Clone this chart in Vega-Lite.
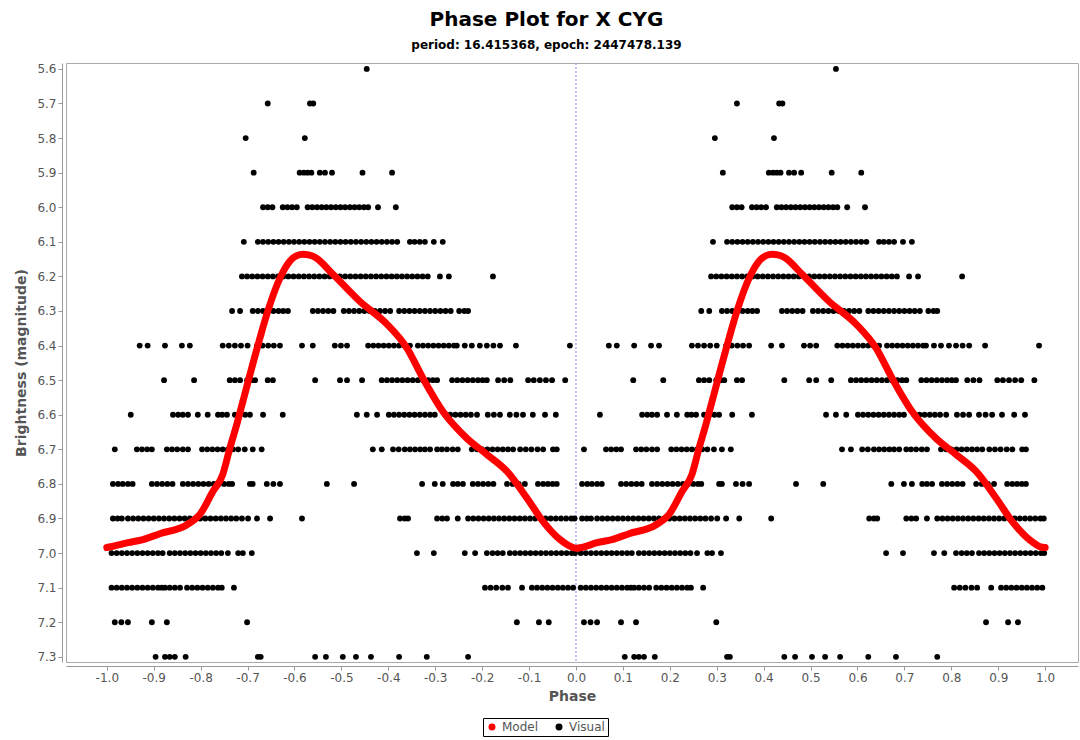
{
  "$schema": "https://vega.github.io/schema/vega-lite/v6.json",
  "autosize": {"type": "fit", "contains": "padding"},
  "width": 1080,
  "height": 740,
  "padding": {"left": 14, "top": 9, "right": 2, "bottom": 37},
  "background": "white",
  "title": {
    "text": "Phase Plot for X CYG",
    "subtitle": "period: 16.415368, epoch: 2447478.139",
    "font": "DejaVu Sans",
    "fontSize": 20,
    "fontWeight": "bold",
    "color": "#000000",
    "subtitleFont": "DejaVu Sans",
    "subtitleFontSize": 12,
    "subtitleFontWeight": "bold",
    "subtitleColor": "#000000",
    "subtitlePadding": 10,
    "anchor": "middle",
    "frame": "bounds",
    "offset": 12
  },
  "config": {
    "view": {"stroke": "#aaaaaa", "strokeWidth": 1},
    "axis": {
      "labelFont": "DejaVu Sans",
      "labelFontSize": 12,
      "labelColor": "#555555",
      "labelOverlap": false,
      "titleFont": "DejaVu Sans",
      "titleFontSize": 14,
      "titleFontWeight": "bold",
      "titleColor": "#555555",
      "domainColor": "#999999",
      "tickColor": "#999999",
      "tickSize": 4,
      "grid": false
    },
    "legend": {
      "labelFont": "DejaVu Sans",
      "labelFontSize": 12,
      "labelColor": "#555555"
    }
  },
  "datasets": {
    "vis": [
      {"p":-0.446,"m":5.6},{"p":0.554,"m":5.6},
      {"p":-0.657,"m":5.7},{"p":-0.567,"m":5.7},{"p":-0.56,"m":5.7},
      {"p":0.343,"m":5.7},{"p":0.433,"m":5.7},{"p":0.44,"m":5.7},
      {"p":-0.704,"m":5.8},{"p":-0.578,"m":5.8},{"p":0.296,"m":5.8},{"p":0.422,"m":5.8},
      {"p":-0.687,"m":5.9},{"p":-0.589,"m":5.9},{"p":-0.58,"m":5.9},{"p":-0.572,"m":5.9},{"p":-0.564,"m":5.9},{"p":-0.546,"m":5.9},{"p":-0.535,"m":5.9},{"p":-0.52,"m":5.9},{"p":-0.455,"m":5.9},{"p":-0.392,"m":5.9},
      {"p":0.313,"m":5.9},{"p":0.411,"m":5.9},{"p":0.42,"m":5.9},{"p":0.428,"m":5.9},{"p":0.436,"m":5.9},{"p":0.454,"m":5.9},{"p":0.465,"m":5.9},{"p":0.48,"m":5.9},{"p":0.545,"m":5.9},{"p":0.608,"m":5.9},
      {"p":-0.667,"m":6.0},{"p":-0.657,"m":6.0},{"p":-0.647,"m":6.0},{"p":-0.625,"m":6.0},{"p":-0.615,"m":6.0},{"p":-0.605,"m":6.0},{"p":-0.595,"m":6.0},{"p":-0.572,"m":6.0},{"p":-0.562,"m":6.0},{"p":-0.552,"m":6.0},{"p":-0.542,"m":6.0},{"p":-0.532,"m":6.0},{"p":-0.522,"m":6.0},{"p":-0.512,"m":6.0},{"p":-0.502,"m":6.0},{"p":-0.492,"m":6.0},{"p":-0.482,"m":6.0},{"p":-0.472,"m":6.0},{"p":-0.462,"m":6.0},{"p":-0.452,"m":6.0},{"p":-0.443,"m":6.0},{"p":-0.422,"m":6.0},{"p":-0.384,"m":6.0},
      {"p":0.333,"m":6.0},{"p":0.343,"m":6.0},{"p":0.353,"m":6.0},{"p":0.375,"m":6.0},{"p":0.385,"m":6.0},{"p":0.395,"m":6.0},{"p":0.405,"m":6.0},{"p":0.428,"m":6.0},{"p":0.438,"m":6.0},{"p":0.448,"m":6.0},{"p":0.458,"m":6.0},{"p":0.468,"m":6.0},{"p":0.478,"m":6.0},{"p":0.488,"m":6.0},{"p":0.498,"m":6.0},{"p":0.508,"m":6.0},{"p":0.518,"m":6.0},{"p":0.528,"m":6.0},{"p":0.538,"m":6.0},{"p":0.548,"m":6.0},{"p":0.557,"m":6.0},{"p":0.578,"m":6.0},{"p":0.616,"m":6.0},
      {"p":-0.708,"m":6.1},{"p":-0.678,"m":6.1},{"p":-0.667,"m":6.1},{"p":-0.656,"m":6.1},{"p":-0.645,"m":6.1},{"p":-0.634,"m":6.1},{"p":-0.623,"m":6.1},{"p":-0.612,"m":6.1},{"p":-0.601,"m":6.1},{"p":-0.59,"m":6.1},{"p":-0.579,"m":6.1},{"p":-0.568,"m":6.1},{"p":-0.557,"m":6.1},{"p":-0.546,"m":6.1},{"p":-0.535,"m":6.1},{"p":-0.524,"m":6.1},{"p":-0.513,"m":6.1},{"p":-0.502,"m":6.1},{"p":-0.491,"m":6.1},{"p":-0.48,"m":6.1},{"p":-0.469,"m":6.1},{"p":-0.458,"m":6.1},{"p":-0.447,"m":6.1},{"p":-0.436,"m":6.1},{"p":-0.425,"m":6.1},{"p":-0.414,"m":6.1},{"p":-0.403,"m":6.1},{"p":-0.392,"m":6.1},{"p":-0.381,"m":6.1},{"p":-0.354,"m":6.1},{"p":-0.344,"m":6.1},{"p":-0.333,"m":6.1},{"p":-0.322,"m":6.1},{"p":-0.303,"m":6.1},{"p":-0.284,"m":6.1},
      {"p":0.292,"m":6.1},{"p":0.322,"m":6.1},{"p":0.333,"m":6.1},{"p":0.344,"m":6.1},{"p":0.355,"m":6.1},{"p":0.366,"m":6.1},{"p":0.377,"m":6.1},{"p":0.388,"m":6.1},{"p":0.399,"m":6.1},{"p":0.41,"m":6.1},{"p":0.421,"m":6.1},{"p":0.432,"m":6.1},{"p":0.443,"m":6.1},{"p":0.454,"m":6.1},{"p":0.465,"m":6.1},{"p":0.476,"m":6.1},{"p":0.487,"m":6.1},{"p":0.498,"m":6.1},{"p":0.509,"m":6.1},{"p":0.52,"m":6.1},{"p":0.531,"m":6.1},{"p":0.542,"m":6.1},{"p":0.553,"m":6.1},{"p":0.564,"m":6.1},{"p":0.575,"m":6.1},{"p":0.586,"m":6.1},{"p":0.597,"m":6.1},{"p":0.608,"m":6.1},{"p":0.619,"m":6.1},{"p":0.646,"m":6.1},{"p":0.656,"m":6.1},{"p":0.667,"m":6.1},{"p":0.678,"m":6.1},{"p":0.697,"m":6.1},{"p":0.716,"m":6.1},
      {"p":-0.712,"m":6.2},{"p":-0.701,"m":6.2},{"p":-0.69,"m":6.2},{"p":-0.679,"m":6.2},{"p":-0.668,"m":6.2},{"p":-0.657,"m":6.2},{"p":-0.646,"m":6.2},{"p":-0.635,"m":6.2},{"p":-0.624,"m":6.2},{"p":-0.613,"m":6.2},{"p":-0.602,"m":6.2},{"p":-0.591,"m":6.2},{"p":-0.58,"m":6.2},{"p":-0.569,"m":6.2},{"p":-0.558,"m":6.2},{"p":-0.547,"m":6.2},{"p":-0.536,"m":6.2},{"p":-0.525,"m":6.2},{"p":-0.514,"m":6.2},{"p":-0.503,"m":6.2},{"p":-0.492,"m":6.2},{"p":-0.481,"m":6.2},{"p":-0.47,"m":6.2},{"p":-0.459,"m":6.2},{"p":-0.448,"m":6.2},{"p":-0.437,"m":6.2},{"p":-0.426,"m":6.2},{"p":-0.415,"m":6.2},{"p":-0.404,"m":6.2},{"p":-0.393,"m":6.2},{"p":-0.382,"m":6.2},{"p":-0.371,"m":6.2},{"p":-0.36,"m":6.2},{"p":-0.349,"m":6.2},{"p":-0.338,"m":6.2},{"p":-0.327,"m":6.2},{"p":-0.316,"m":6.2},{"p":-0.29,"m":6.2},{"p":-0.271,"m":6.2},{"p":-0.177,"m":6.2},
      {"p":0.288,"m":6.2},{"p":0.299,"m":6.2},{"p":0.31,"m":6.2},{"p":0.321,"m":6.2},{"p":0.332,"m":6.2},{"p":0.343,"m":6.2},{"p":0.354,"m":6.2},{"p":0.365,"m":6.2},{"p":0.376,"m":6.2},{"p":0.387,"m":6.2},{"p":0.398,"m":6.2},{"p":0.409,"m":6.2},{"p":0.42,"m":6.2},{"p":0.431,"m":6.2},{"p":0.442,"m":6.2},{"p":0.453,"m":6.2},{"p":0.464,"m":6.2},{"p":0.475,"m":6.2},{"p":0.486,"m":6.2},{"p":0.497,"m":6.2},{"p":0.508,"m":6.2},{"p":0.519,"m":6.2},{"p":0.53,"m":6.2},{"p":0.541,"m":6.2},{"p":0.552,"m":6.2},{"p":0.563,"m":6.2},{"p":0.574,"m":6.2},{"p":0.585,"m":6.2},{"p":0.596,"m":6.2},{"p":0.607,"m":6.2},{"p":0.618,"m":6.2},{"p":0.629,"m":6.2},{"p":0.64,"m":6.2},{"p":0.651,"m":6.2},{"p":0.662,"m":6.2},{"p":0.673,"m":6.2},{"p":0.684,"m":6.2},{"p":0.71,"m":6.2},{"p":0.729,"m":6.2},{"p":0.823,"m":6.2},
      {"p":-0.733,"m":6.3},{"p":-0.716,"m":6.3},{"p":-0.689,"m":6.3},{"p":-0.678,"m":6.3},{"p":-0.667,"m":6.3},{"p":-0.656,"m":6.3},{"p":-0.645,"m":6.3},{"p":-0.634,"m":6.3},{"p":-0.624,"m":6.3},{"p":-0.614,"m":6.3},{"p":-0.561,"m":6.3},{"p":-0.55,"m":6.3},{"p":-0.539,"m":6.3},{"p":-0.528,"m":6.3},{"p":-0.517,"m":6.3},{"p":-0.495,"m":6.3},{"p":-0.484,"m":6.3},{"p":-0.473,"m":6.3},{"p":-0.462,"m":6.3},{"p":-0.451,"m":6.3},{"p":-0.44,"m":6.3},{"p":-0.429,"m":6.3},{"p":-0.418,"m":6.3},{"p":-0.407,"m":6.3},{"p":-0.396,"m":6.3},{"p":-0.377,"m":6.3},{"p":-0.366,"m":6.3},{"p":-0.355,"m":6.3},{"p":-0.344,"m":6.3},{"p":-0.333,"m":6.3},{"p":-0.322,"m":6.3},{"p":-0.311,"m":6.3},{"p":-0.3,"m":6.3},{"p":-0.289,"m":6.3},{"p":-0.278,"m":6.3},{"p":-0.267,"m":6.3},{"p":-0.249,"m":6.3},{"p":-0.238,"m":6.3},{"p":-0.23,"m":6.3},
      {"p":0.267,"m":6.3},{"p":0.284,"m":6.3},{"p":0.311,"m":6.3},{"p":0.322,"m":6.3},{"p":0.333,"m":6.3},{"p":0.344,"m":6.3},{"p":0.355,"m":6.3},{"p":0.366,"m":6.3},{"p":0.376,"m":6.3},{"p":0.386,"m":6.3},{"p":0.439,"m":6.3},{"p":0.45,"m":6.3},{"p":0.461,"m":6.3},{"p":0.472,"m":6.3},{"p":0.483,"m":6.3},{"p":0.505,"m":6.3},{"p":0.516,"m":6.3},{"p":0.527,"m":6.3},{"p":0.538,"m":6.3},{"p":0.549,"m":6.3},{"p":0.56,"m":6.3},{"p":0.571,"m":6.3},{"p":0.582,"m":6.3},{"p":0.593,"m":6.3},{"p":0.604,"m":6.3},{"p":0.623,"m":6.3},{"p":0.634,"m":6.3},{"p":0.645,"m":6.3},{"p":0.656,"m":6.3},{"p":0.667,"m":6.3},{"p":0.678,"m":6.3},{"p":0.689,"m":6.3},{"p":0.7,"m":6.3},{"p":0.711,"m":6.3},{"p":0.722,"m":6.3},{"p":0.733,"m":6.3},{"p":0.751,"m":6.3},{"p":0.762,"m":6.3},{"p":0.77,"m":6.3},
      {"p":-0.93,"m":6.4},{"p":-0.913,"m":6.4},{"p":-0.876,"m":6.4},{"p":-0.84,"m":6.4},{"p":-0.823,"m":6.4},{"p":-0.753,"m":6.4},{"p":-0.74,"m":6.4},{"p":-0.727,"m":6.4},{"p":-0.714,"m":6.4},{"p":-0.7,"m":6.4},{"p":-0.68,"m":6.4},{"p":-0.668,"m":6.4},{"p":-0.656,"m":6.4},{"p":-0.644,"m":6.4},{"p":-0.631,"m":6.4},{"p":-0.584,"m":6.4},{"p":-0.561,"m":6.4},{"p":-0.514,"m":6.4},{"p":-0.501,"m":6.4},{"p":-0.488,"m":6.4},{"p":-0.443,"m":6.4},{"p":-0.432,"m":6.4},{"p":-0.421,"m":6.4},{"p":-0.41,"m":6.4},{"p":-0.399,"m":6.4},{"p":-0.388,"m":6.4},{"p":-0.377,"m":6.4},{"p":-0.366,"m":6.4},{"p":-0.354,"m":6.4},{"p":-0.337,"m":6.4},{"p":-0.326,"m":6.4},{"p":-0.315,"m":6.4},{"p":-0.304,"m":6.4},{"p":-0.293,"m":6.4},{"p":-0.282,"m":6.4},{"p":-0.271,"m":6.4},{"p":-0.26,"m":6.4},{"p":-0.254,"m":6.4},{"p":-0.237,"m":6.4},{"p":-0.222,"m":6.4},{"p":-0.205,"m":6.4},{"p":-0.19,"m":6.4},{"p":-0.176,"m":6.4},{"p":-0.162,"m":6.4},{"p":-0.128,"m":6.4},{"p":-0.013,"m":6.4},
      {"p":0.07,"m":6.4},{"p":0.087,"m":6.4},{"p":0.124,"m":6.4},{"p":0.16,"m":6.4},{"p":0.177,"m":6.4},{"p":0.247,"m":6.4},{"p":0.26,"m":6.4},{"p":0.273,"m":6.4},{"p":0.286,"m":6.4},{"p":0.3,"m":6.4},{"p":0.32,"m":6.4},{"p":0.332,"m":6.4},{"p":0.344,"m":6.4},{"p":0.356,"m":6.4},{"p":0.369,"m":6.4},{"p":0.416,"m":6.4},{"p":0.439,"m":6.4},{"p":0.486,"m":6.4},{"p":0.499,"m":6.4},{"p":0.512,"m":6.4},{"p":0.557,"m":6.4},{"p":0.568,"m":6.4},{"p":0.579,"m":6.4},{"p":0.59,"m":6.4},{"p":0.601,"m":6.4},{"p":0.612,"m":6.4},{"p":0.623,"m":6.4},{"p":0.634,"m":6.4},{"p":0.646,"m":6.4},{"p":0.663,"m":6.4},{"p":0.674,"m":6.4},{"p":0.685,"m":6.4},{"p":0.696,"m":6.4},{"p":0.707,"m":6.4},{"p":0.718,"m":6.4},{"p":0.729,"m":6.4},{"p":0.74,"m":6.4},{"p":0.746,"m":6.4},{"p":0.763,"m":6.4},{"p":0.778,"m":6.4},{"p":0.795,"m":6.4},{"p":0.81,"m":6.4},{"p":0.824,"m":6.4},{"p":0.838,"m":6.4},{"p":0.872,"m":6.4},{"p":0.987,"m":6.4},
      {"p":-0.878,"m":6.5},{"p":-0.814,"m":6.5},{"p":-0.738,"m":6.5},{"p":-0.727,"m":6.5},{"p":-0.716,"m":6.5},{"p":-0.701,"m":6.5},{"p":-0.692,"m":6.5},{"p":-0.684,"m":6.5},{"p":-0.657,"m":6.5},{"p":-0.646,"m":6.5},{"p":-0.556,"m":6.5},{"p":-0.503,"m":6.5},{"p":-0.488,"m":6.5},{"p":-0.456,"m":6.5},{"p":-0.414,"m":6.5},{"p":-0.403,"m":6.5},{"p":-0.392,"m":6.5},{"p":-0.381,"m":6.5},{"p":-0.37,"m":6.5},{"p":-0.359,"m":6.5},{"p":-0.348,"m":6.5},{"p":-0.337,"m":6.5},{"p":-0.326,"m":6.5},{"p":-0.315,"m":6.5},{"p":-0.305,"m":6.5},{"p":-0.296,"m":6.5},{"p":-0.264,"m":6.5},{"p":-0.253,"m":6.5},{"p":-0.242,"m":6.5},{"p":-0.231,"m":6.5},{"p":-0.22,"m":6.5},{"p":-0.209,"m":6.5},{"p":-0.199,"m":6.5},{"p":-0.19,"m":6.5},{"p":-0.166,"m":6.5},{"p":-0.153,"m":6.5},{"p":-0.14,"m":6.5},{"p":-0.102,"m":6.5},{"p":-0.09,"m":6.5},{"p":-0.077,"m":6.5},{"p":-0.064,"m":6.5},{"p":-0.051,"m":6.5},{"p":-0.023,"m":6.5},
      {"p":0.122,"m":6.5},{"p":0.186,"m":6.5},{"p":0.262,"m":6.5},{"p":0.273,"m":6.5},{"p":0.284,"m":6.5},{"p":0.299,"m":6.5},{"p":0.308,"m":6.5},{"p":0.316,"m":6.5},{"p":0.343,"m":6.5},{"p":0.354,"m":6.5},{"p":0.444,"m":6.5},{"p":0.497,"m":6.5},{"p":0.512,"m":6.5},{"p":0.544,"m":6.5},{"p":0.586,"m":6.5},{"p":0.597,"m":6.5},{"p":0.608,"m":6.5},{"p":0.619,"m":6.5},{"p":0.63,"m":6.5},{"p":0.641,"m":6.5},{"p":0.652,"m":6.5},{"p":0.663,"m":6.5},{"p":0.674,"m":6.5},{"p":0.685,"m":6.5},{"p":0.695,"m":6.5},{"p":0.704,"m":6.5},{"p":0.736,"m":6.5},{"p":0.747,"m":6.5},{"p":0.758,"m":6.5},{"p":0.769,"m":6.5},{"p":0.78,"m":6.5},{"p":0.791,"m":6.5},{"p":0.801,"m":6.5},{"p":0.81,"m":6.5},{"p":0.834,"m":6.5},{"p":0.847,"m":6.5},{"p":0.86,"m":6.5},{"p":0.898,"m":6.5},{"p":0.91,"m":6.5},{"p":0.923,"m":6.5},{"p":0.936,"m":6.5},{"p":0.949,"m":6.5},{"p":0.977,"m":6.5},
      {"p":-0.949,"m":6.6},{"p":-0.859,"m":6.6},{"p":-0.848,"m":6.6},{"p":-0.838,"m":6.6},{"p":-0.827,"m":6.6},{"p":-0.806,"m":6.6},{"p":-0.785,"m":6.6},{"p":-0.763,"m":6.6},{"p":-0.754,"m":6.6},{"p":-0.744,"m":6.6},{"p":-0.727,"m":6.6},{"p":-0.716,"m":6.6},{"p":-0.705,"m":6.6},{"p":-0.695,"m":6.6},{"p":-0.667,"m":6.6},{"p":-0.625,"m":6.6},{"p":-0.467,"m":6.6},{"p":-0.446,"m":6.6},{"p":-0.424,"m":6.6},{"p":-0.399,"m":6.6},{"p":-0.388,"m":6.6},{"p":-0.377,"m":6.6},{"p":-0.366,"m":6.6},{"p":-0.355,"m":6.6},{"p":-0.344,"m":6.6},{"p":-0.333,"m":6.6},{"p":-0.322,"m":6.6},{"p":-0.311,"m":6.6},{"p":-0.301,"m":6.6},{"p":-0.279,"m":6.6},{"p":-0.268,"m":6.6},{"p":-0.257,"m":6.6},{"p":-0.246,"m":6.6},{"p":-0.235,"m":6.6},{"p":-0.224,"m":6.6},{"p":-0.211,"m":6.6},{"p":-0.188,"m":6.6},{"p":-0.175,"m":6.6},{"p":-0.162,"m":6.6},{"p":-0.141,"m":6.6},{"p":-0.127,"m":6.6},{"p":-0.113,"m":6.6},{"p":-0.092,"m":6.6},{"p":-0.066,"m":6.6},{"p":-0.043,"m":6.6},
      {"p":0.051,"m":6.6},{"p":0.141,"m":6.6},{"p":0.152,"m":6.6},{"p":0.162,"m":6.6},{"p":0.173,"m":6.6},{"p":0.194,"m":6.6},{"p":0.215,"m":6.6},{"p":0.237,"m":6.6},{"p":0.246,"m":6.6},{"p":0.256,"m":6.6},{"p":0.273,"m":6.6},{"p":0.284,"m":6.6},{"p":0.295,"m":6.6},{"p":0.305,"m":6.6},{"p":0.333,"m":6.6},{"p":0.375,"m":6.6},{"p":0.533,"m":6.6},{"p":0.554,"m":6.6},{"p":0.576,"m":6.6},{"p":0.601,"m":6.6},{"p":0.612,"m":6.6},{"p":0.623,"m":6.6},{"p":0.634,"m":6.6},{"p":0.645,"m":6.6},{"p":0.656,"m":6.6},{"p":0.667,"m":6.6},{"p":0.678,"m":6.6},{"p":0.689,"m":6.6},{"p":0.699,"m":6.6},{"p":0.721,"m":6.6},{"p":0.732,"m":6.6},{"p":0.743,"m":6.6},{"p":0.754,"m":6.6},{"p":0.765,"m":6.6},{"p":0.776,"m":6.6},{"p":0.789,"m":6.6},{"p":0.812,"m":6.6},{"p":0.825,"m":6.6},{"p":0.838,"m":6.6},{"p":0.859,"m":6.6},{"p":0.873,"m":6.6},{"p":0.887,"m":6.6},{"p":0.908,"m":6.6},{"p":0.934,"m":6.6},{"p":0.957,"m":6.6},
      {"p":-0.983,"m":6.7},{"p":-0.936,"m":6.7},{"p":-0.925,"m":6.7},{"p":-0.914,"m":6.7},{"p":-0.904,"m":6.7},{"p":-0.872,"m":6.7},{"p":-0.861,"m":6.7},{"p":-0.85,"m":6.7},{"p":-0.838,"m":6.7},{"p":-0.827,"m":6.7},{"p":-0.797,"m":6.7},{"p":-0.786,"m":6.7},{"p":-0.775,"m":6.7},{"p":-0.764,"m":6.7},{"p":-0.753,"m":6.7},{"p":-0.742,"m":6.7},{"p":-0.731,"m":6.7},{"p":-0.72,"m":6.7},{"p":-0.706,"m":6.7},{"p":-0.689,"m":6.7},{"p":-0.67,"m":6.7},{"p":-0.433,"m":6.7},{"p":-0.414,"m":6.7},{"p":-0.39,"m":6.7},{"p":-0.378,"m":6.7},{"p":-0.365,"m":6.7},{"p":-0.354,"m":6.7},{"p":-0.343,"m":6.7},{"p":-0.332,"m":6.7},{"p":-0.322,"m":6.7},{"p":-0.311,"m":6.7},{"p":-0.296,"m":6.7},{"p":-0.286,"m":6.7},{"p":-0.275,"m":6.7},{"p":-0.263,"m":6.7},{"p":-0.252,"m":6.7},{"p":-0.222,"m":6.7},{"p":-0.211,"m":6.7},{"p":-0.2,"m":6.7},{"p":-0.189,"m":6.7},{"p":-0.178,"m":6.7},{"p":-0.167,"m":6.7},{"p":-0.156,"m":6.7},{"p":-0.145,"m":6.7},{"p":-0.134,"m":6.7},{"p":-0.119,"m":6.7},{"p":-0.107,"m":6.7},{"p":-0.095,"m":6.7},{"p":-0.082,"m":6.7},{"p":-0.07,"m":6.7},{"p":-0.049,"m":6.7},{"p":-0.041,"m":6.7},
      {"p":0.017,"m":6.7},{"p":0.064,"m":6.7},{"p":0.075,"m":6.7},{"p":0.086,"m":6.7},{"p":0.096,"m":6.7},{"p":0.128,"m":6.7},{"p":0.139,"m":6.7},{"p":0.15,"m":6.7},{"p":0.162,"m":6.7},{"p":0.173,"m":6.7},{"p":0.203,"m":6.7},{"p":0.214,"m":6.7},{"p":0.225,"m":6.7},{"p":0.236,"m":6.7},{"p":0.247,"m":6.7},{"p":0.258,"m":6.7},{"p":0.269,"m":6.7},{"p":0.28,"m":6.7},{"p":0.294,"m":6.7},{"p":0.311,"m":6.7},{"p":0.33,"m":6.7},{"p":0.567,"m":6.7},{"p":0.586,"m":6.7},{"p":0.61,"m":6.7},{"p":0.622,"m":6.7},{"p":0.635,"m":6.7},{"p":0.646,"m":6.7},{"p":0.657,"m":6.7},{"p":0.668,"m":6.7},{"p":0.678,"m":6.7},{"p":0.689,"m":6.7},{"p":0.704,"m":6.7},{"p":0.714,"m":6.7},{"p":0.725,"m":6.7},{"p":0.737,"m":6.7},{"p":0.748,"m":6.7},{"p":0.778,"m":6.7},{"p":0.789,"m":6.7},{"p":0.8,"m":6.7},{"p":0.811,"m":6.7},{"p":0.822,"m":6.7},{"p":0.833,"m":6.7},{"p":0.844,"m":6.7},{"p":0.855,"m":6.7},{"p":0.866,"m":6.7},{"p":0.881,"m":6.7},{"p":0.893,"m":6.7},{"p":0.905,"m":6.7},{"p":0.918,"m":6.7},{"p":0.93,"m":6.7},{"p":0.951,"m":6.7},{"p":0.959,"m":6.7},
      {"p":-0.987,"m":6.8},{"p":-0.976,"m":6.8},{"p":-0.966,"m":6.8},{"p":-0.955,"m":6.8},{"p":-0.945,"m":6.8},{"p":-0.904,"m":6.8},{"p":-0.893,"m":6.8},{"p":-0.882,"m":6.8},{"p":-0.871,"m":6.8},{"p":-0.86,"m":6.8},{"p":-0.838,"m":6.8},{"p":-0.827,"m":6.8},{"p":-0.816,"m":6.8},{"p":-0.805,"m":6.8},{"p":-0.794,"m":6.8},{"p":-0.783,"m":6.8},{"p":-0.772,"m":6.8},{"p":-0.761,"m":6.8},{"p":-0.75,"m":6.8},{"p":-0.74,"m":6.8},{"p":-0.733,"m":6.8},{"p":-0.695,"m":6.8},{"p":-0.689,"m":6.8},{"p":-0.659,"m":6.8},{"p":-0.645,"m":6.8},{"p":-0.631,"m":6.8},{"p":-0.531,"m":6.8},{"p":-0.473,"m":6.8},{"p":-0.328,"m":6.8},{"p":-0.301,"m":6.8},{"p":-0.284,"m":6.8},{"p":-0.262,"m":6.8},{"p":-0.252,"m":6.8},{"p":-0.241,"m":6.8},{"p":-0.22,"m":6.8},{"p":-0.209,"m":6.8},{"p":-0.198,"m":6.8},{"p":-0.187,"m":6.8},{"p":-0.176,"m":6.8},{"p":-0.147,"m":6.8},{"p":-0.135,"m":6.8},{"p":-0.122,"m":6.8},{"p":-0.109,"m":6.8},{"p":-0.081,"m":6.8},{"p":-0.07,"m":6.8},{"p":-0.06,"m":6.8},{"p":-0.05,"m":6.8},{"p":-0.041,"m":6.8},
      {"p":0.013,"m":6.8},{"p":0.024,"m":6.8},{"p":0.034,"m":6.8},{"p":0.045,"m":6.8},{"p":0.055,"m":6.8},{"p":0.096,"m":6.8},{"p":0.107,"m":6.8},{"p":0.118,"m":6.8},{"p":0.129,"m":6.8},{"p":0.14,"m":6.8},{"p":0.162,"m":6.8},{"p":0.173,"m":6.8},{"p":0.184,"m":6.8},{"p":0.195,"m":6.8},{"p":0.206,"m":6.8},{"p":0.217,"m":6.8},{"p":0.228,"m":6.8},{"p":0.239,"m":6.8},{"p":0.25,"m":6.8},{"p":0.26,"m":6.8},{"p":0.267,"m":6.8},{"p":0.305,"m":6.8},{"p":0.311,"m":6.8},{"p":0.341,"m":6.8},{"p":0.355,"m":6.8},{"p":0.369,"m":6.8},{"p":0.469,"m":6.8},{"p":0.527,"m":6.8},{"p":0.672,"m":6.8},{"p":0.699,"m":6.8},{"p":0.716,"m":6.8},{"p":0.738,"m":6.8},{"p":0.748,"m":6.8},{"p":0.759,"m":6.8},{"p":0.78,"m":6.8},{"p":0.791,"m":6.8},{"p":0.802,"m":6.8},{"p":0.813,"m":6.8},{"p":0.824,"m":6.8},{"p":0.853,"m":6.8},{"p":0.865,"m":6.8},{"p":0.878,"m":6.8},{"p":0.891,"m":6.8},{"p":0.919,"m":6.8},{"p":0.93,"m":6.8},{"p":0.94,"m":6.8},{"p":0.95,"m":6.8},{"p":0.959,"m":6.8},
      {"p":-0.987,"m":6.9},{"p":-0.977,"m":6.9},{"p":-0.968,"m":6.9},{"p":-0.955,"m":6.9},{"p":-0.944,"m":6.9},{"p":-0.933,"m":6.9},{"p":-0.922,"m":6.9},{"p":-0.911,"m":6.9},{"p":-0.9,"m":6.9},{"p":-0.889,"m":6.9},{"p":-0.878,"m":6.9},{"p":-0.867,"m":6.9},{"p":-0.856,"m":6.9},{"p":-0.845,"m":6.9},{"p":-0.834,"m":6.9},{"p":-0.823,"m":6.9},{"p":-0.812,"m":6.9},{"p":-0.801,"m":6.9},{"p":-0.79,"m":6.9},{"p":-0.779,"m":6.9},{"p":-0.768,"m":6.9},{"p":-0.757,"m":6.9},{"p":-0.746,"m":6.9},{"p":-0.735,"m":6.9},{"p":-0.724,"m":6.9},{"p":-0.712,"m":6.9},{"p":-0.699,"m":6.9},{"p":-0.68,"m":6.9},{"p":-0.652,"m":6.9},{"p":-0.584,"m":6.9},{"p":-0.375,"m":6.9},{"p":-0.365,"m":6.9},{"p":-0.358,"m":6.9},{"p":-0.296,"m":6.9},{"p":-0.285,"m":6.9},{"p":-0.275,"m":6.9},{"p":-0.252,"m":6.9},{"p":-0.23,"m":6.9},{"p":-0.219,"m":6.9},{"p":-0.208,"m":6.9},{"p":-0.197,"m":6.9},{"p":-0.186,"m":6.9},{"p":-0.175,"m":6.9},{"p":-0.164,"m":6.9},{"p":-0.153,"m":6.9},{"p":-0.142,"m":6.9},{"p":-0.131,"m":6.9},{"p":-0.12,"m":6.9},{"p":-0.109,"m":6.9},{"p":-0.098,"m":6.9},{"p":-0.087,"m":6.9},{"p":-0.076,"m":6.9},{"p":-0.065,"m":6.9},{"p":-0.054,"m":6.9},{"p":-0.043,"m":6.9},{"p":-0.032,"m":6.9},{"p":-0.021,"m":6.9},{"p":-0.01,"m":6.9},{"p":-0.003,"m":6.9},
      {"p":0.013,"m":6.9},{"p":0.023,"m":6.9},{"p":0.032,"m":6.9},{"p":0.045,"m":6.9},{"p":0.056,"m":6.9},{"p":0.067,"m":6.9},{"p":0.078,"m":6.9},{"p":0.089,"m":6.9},{"p":0.1,"m":6.9},{"p":0.111,"m":6.9},{"p":0.122,"m":6.9},{"p":0.133,"m":6.9},{"p":0.144,"m":6.9},{"p":0.155,"m":6.9},{"p":0.166,"m":6.9},{"p":0.177,"m":6.9},{"p":0.188,"m":6.9},{"p":0.199,"m":6.9},{"p":0.21,"m":6.9},{"p":0.221,"m":6.9},{"p":0.232,"m":6.9},{"p":0.243,"m":6.9},{"p":0.254,"m":6.9},{"p":0.265,"m":6.9},{"p":0.276,"m":6.9},{"p":0.288,"m":6.9},{"p":0.301,"m":6.9},{"p":0.32,"m":6.9},{"p":0.348,"m":6.9},{"p":0.416,"m":6.9},{"p":0.625,"m":6.9},{"p":0.635,"m":6.9},{"p":0.642,"m":6.9},{"p":0.704,"m":6.9},{"p":0.715,"m":6.9},{"p":0.725,"m":6.9},{"p":0.748,"m":6.9},{"p":0.77,"m":6.9},{"p":0.781,"m":6.9},{"p":0.792,"m":6.9},{"p":0.803,"m":6.9},{"p":0.814,"m":6.9},{"p":0.825,"m":6.9},{"p":0.836,"m":6.9},{"p":0.847,"m":6.9},{"p":0.858,"m":6.9},{"p":0.869,"m":6.9},{"p":0.88,"m":6.9},{"p":0.891,"m":6.9},{"p":0.902,"m":6.9},{"p":0.913,"m":6.9},{"p":0.924,"m":6.9},{"p":0.935,"m":6.9},{"p":0.946,"m":6.9},{"p":0.957,"m":6.9},{"p":0.968,"m":6.9},{"p":0.979,"m":6.9},{"p":0.99,"m":6.9},{"p":0.997,"m":6.9},
      {"p":-0.99,"m":7.0},{"p":-0.979,"m":7.0},{"p":-0.968,"m":7.0},{"p":-0.957,"m":7.0},{"p":-0.946,"m":7.0},{"p":-0.935,"m":7.0},{"p":-0.924,"m":7.0},{"p":-0.913,"m":7.0},{"p":-0.902,"m":7.0},{"p":-0.891,"m":7.0},{"p":-0.881,"m":7.0},{"p":-0.866,"m":7.0},{"p":-0.855,"m":7.0},{"p":-0.844,"m":7.0},{"p":-0.833,"m":7.0},{"p":-0.822,"m":7.0},{"p":-0.811,"m":7.0},{"p":-0.8,"m":7.0},{"p":-0.789,"m":7.0},{"p":-0.778,"m":7.0},{"p":-0.767,"m":7.0},{"p":-0.756,"m":7.0},{"p":-0.742,"m":7.0},{"p":-0.72,"m":7.0},{"p":-0.71,"m":7.0},{"p":-0.691,"m":7.0},{"p":-0.339,"m":7.0},{"p":-0.303,"m":7.0},{"p":-0.237,"m":7.0},{"p":-0.215,"m":7.0},{"p":-0.19,"m":7.0},{"p":-0.178,"m":7.0},{"p":-0.167,"m":7.0},{"p":-0.156,"m":7.0},{"p":-0.141,"m":7.0},{"p":-0.13,"m":7.0},{"p":-0.119,"m":7.0},{"p":-0.108,"m":7.0},{"p":-0.097,"m":7.0},{"p":-0.086,"m":7.0},{"p":-0.075,"m":7.0},{"p":-0.064,"m":7.0},{"p":-0.053,"m":7.0},{"p":-0.042,"m":7.0},{"p":-0.031,"m":7.0},{"p":-0.02,"m":7.0},{"p":-0.009,"m":7.0},{"p":-0.002,"m":7.0},
      {"p":0.01,"m":7.0},{"p":0.021,"m":7.0},{"p":0.032,"m":7.0},{"p":0.043,"m":7.0},{"p":0.054,"m":7.0},{"p":0.065,"m":7.0},{"p":0.076,"m":7.0},{"p":0.087,"m":7.0},{"p":0.098,"m":7.0},{"p":0.109,"m":7.0},{"p":0.119,"m":7.0},{"p":0.134,"m":7.0},{"p":0.145,"m":7.0},{"p":0.156,"m":7.0},{"p":0.167,"m":7.0},{"p":0.178,"m":7.0},{"p":0.189,"m":7.0},{"p":0.2,"m":7.0},{"p":0.211,"m":7.0},{"p":0.222,"m":7.0},{"p":0.233,"m":7.0},{"p":0.244,"m":7.0},{"p":0.258,"m":7.0},{"p":0.28,"m":7.0},{"p":0.29,"m":7.0},{"p":0.309,"m":7.0},{"p":0.661,"m":7.0},{"p":0.697,"m":7.0},{"p":0.763,"m":7.0},{"p":0.785,"m":7.0},{"p":0.81,"m":7.0},{"p":0.822,"m":7.0},{"p":0.833,"m":7.0},{"p":0.844,"m":7.0},{"p":0.859,"m":7.0},{"p":0.87,"m":7.0},{"p":0.881,"m":7.0},{"p":0.892,"m":7.0},{"p":0.903,"m":7.0},{"p":0.914,"m":7.0},{"p":0.925,"m":7.0},{"p":0.936,"m":7.0},{"p":0.947,"m":7.0},{"p":0.958,"m":7.0},{"p":0.969,"m":7.0},{"p":0.98,"m":7.0},{"p":0.991,"m":7.0},{"p":0.998,"m":7.0},
      {"p":-0.99,"m":7.1},{"p":-0.979,"m":7.1},{"p":-0.968,"m":7.1},{"p":-0.957,"m":7.1},{"p":-0.946,"m":7.1},{"p":-0.935,"m":7.1},{"p":-0.924,"m":7.1},{"p":-0.913,"m":7.1},{"p":-0.902,"m":7.1},{"p":-0.891,"m":7.1},{"p":-0.883,"m":7.1},{"p":-0.876,"m":7.1},{"p":-0.866,"m":7.1},{"p":-0.855,"m":7.1},{"p":-0.844,"m":7.1},{"p":-0.829,"m":7.1},{"p":-0.818,"m":7.1},{"p":-0.807,"m":7.1},{"p":-0.796,"m":7.1},{"p":-0.785,"m":7.1},{"p":-0.774,"m":7.1},{"p":-0.763,"m":7.1},{"p":-0.755,"m":7.1},{"p":-0.729,"m":7.1},{"p":-0.194,"m":7.1},{"p":-0.182,"m":7.1},{"p":-0.17,"m":7.1},{"p":-0.157,"m":7.1},{"p":-0.145,"m":7.1},{"p":-0.115,"m":7.1},{"p":-0.094,"m":7.1},{"p":-0.083,"m":7.1},{"p":-0.072,"m":7.1},{"p":-0.061,"m":7.1},{"p":-0.05,"m":7.1},{"p":-0.039,"m":7.1},{"p":-0.028,"m":7.1},{"p":-0.017,"m":7.1},{"p":-0.006,"m":7.1},
      {"p":0.01,"m":7.1},{"p":0.021,"m":7.1},{"p":0.032,"m":7.1},{"p":0.043,"m":7.1},{"p":0.054,"m":7.1},{"p":0.065,"m":7.1},{"p":0.076,"m":7.1},{"p":0.087,"m":7.1},{"p":0.098,"m":7.1},{"p":0.109,"m":7.1},{"p":0.117,"m":7.1},{"p":0.124,"m":7.1},{"p":0.134,"m":7.1},{"p":0.145,"m":7.1},{"p":0.156,"m":7.1},{"p":0.171,"m":7.1},{"p":0.182,"m":7.1},{"p":0.193,"m":7.1},{"p":0.204,"m":7.1},{"p":0.215,"m":7.1},{"p":0.226,"m":7.1},{"p":0.237,"m":7.1},{"p":0.245,"m":7.1},{"p":0.271,"m":7.1},{"p":0.806,"m":7.1},{"p":0.818,"m":7.1},{"p":0.83,"m":7.1},{"p":0.843,"m":7.1},{"p":0.855,"m":7.1},{"p":0.885,"m":7.1},{"p":0.906,"m":7.1},{"p":0.917,"m":7.1},{"p":0.928,"m":7.1},{"p":0.939,"m":7.1},{"p":0.95,"m":7.1},{"p":0.961,"m":7.1},{"p":0.972,"m":7.1},{"p":0.983,"m":7.1},{"p":0.994,"m":7.1},
      {"p":-0.983,"m":7.2},{"p":-0.969,"m":7.2},{"p":-0.955,"m":7.2},{"p":-0.904,"m":7.2},{"p":-0.872,"m":7.2},{"p":-0.701,"m":7.2},{"p":-0.126,"m":7.2},{"p":-0.079,"m":7.2},{"p":-0.058,"m":7.2},
      {"p":0.017,"m":7.2},{"p":0.031,"m":7.2},{"p":0.045,"m":7.2},{"p":0.096,"m":7.2},{"p":0.128,"m":7.2},{"p":0.299,"m":7.2},{"p":0.874,"m":7.2},{"p":0.921,"m":7.2},{"p":0.942,"m":7.2},
      {"p":-0.896,"m":7.3},{"p":-0.876,"m":7.3},{"p":-0.866,"m":7.3},{"p":-0.855,"m":7.3},{"p":-0.832,"m":7.3},{"p":-0.678,"m":7.3},{"p":-0.672,"m":7.3},{"p":-0.556,"m":7.3},{"p":-0.533,"m":7.3},{"p":-0.497,"m":7.3},{"p":-0.469,"m":7.3},{"p":-0.437,"m":7.3},{"p":-0.377,"m":7.3},{"p":-0.318,"m":7.3},{"p":-0.23,"m":7.3},
      {"p":0.104,"m":7.3},{"p":0.124,"m":7.3},{"p":0.134,"m":7.3},{"p":0.145,"m":7.3},{"p":0.168,"m":7.3},{"p":0.322,"m":7.3},{"p":0.328,"m":7.3},{"p":0.444,"m":7.3},{"p":0.467,"m":7.3},{"p":0.503,"m":7.3},{"p":0.531,"m":7.3},{"p":0.563,"m":7.3},{"p":0.623,"m":7.3},{"p":0.682,"m":7.3},{"p":0.77,"m":7.3}
    ],
    "model": [
      {"p":-1.0,"m":6.984},{"p":-0.989,"m":6.981},{"p":-0.955,"m":6.97},{"p":-0.923,"m":6.961},{"p":-0.887,"m":6.944},{"p":-0.829,"m":6.918},{"p":-0.802,"m":6.889},{"p":-0.774,"m":6.822},{"p":-0.753,"m":6.773},{"p":-0.738,"m":6.698},{"p":-0.723,"m":6.628},{"p":-0.706,"m":6.541},{"p":-0.689,"m":6.454},{"p":-0.673,"m":6.375},{"p":-0.657,"m":6.301},{"p":-0.631,"m":6.205},{"p":-0.61,"m":6.156},{"p":-0.595,"m":6.14},{"p":-0.582,"m":6.136},{"p":-0.57,"m":6.138},{"p":-0.557,"m":6.144},{"p":-0.518,"m":6.194},{"p":-0.461,"m":6.272},{"p":-0.403,"m":6.338},{"p":-0.36,"m":6.408},{"p":-0.326,"m":6.495},{"p":-0.284,"m":6.59},{"p":-0.232,"m":6.669},{"p":-0.19,"m":6.715},{"p":-0.147,"m":6.764},{"p":-0.104,"m":6.842},{"p":-0.07,"m":6.909},{"p":-0.034,"m":6.961},{"p":-0.01,"m":6.982},
      {"p":0.0,"m":6.986},{"p":0.011,"m":6.984},{"p":0.045,"m":6.97},{"p":0.077,"m":6.961},{"p":0.113,"m":6.944},{"p":0.171,"m":6.918},{"p":0.198,"m":6.889},{"p":0.226,"m":6.822},{"p":0.247,"m":6.773},{"p":0.262,"m":6.698},{"p":0.277,"m":6.628},{"p":0.294,"m":6.541},{"p":0.311,"m":6.454},{"p":0.327,"m":6.375},{"p":0.343,"m":6.301},{"p":0.369,"m":6.205},{"p":0.39,"m":6.156},{"p":0.405,"m":6.14},{"p":0.418,"m":6.136},{"p":0.43,"m":6.138},{"p":0.443,"m":6.144},{"p":0.482,"m":6.194},{"p":0.539,"m":6.272},{"p":0.597,"m":6.338},{"p":0.64,"m":6.408},{"p":0.674,"m":6.495},{"p":0.716,"m":6.59},{"p":0.768,"m":6.669},{"p":0.81,"m":6.715},{"p":0.853,"m":6.764},{"p":0.896,"m":6.842},{"p":0.93,"m":6.909},{"p":0.966,"m":6.961},{"p":0.99,"m":6.982},{"p":1.0,"m":6.984}
    ],
    "zero": [{"p": 0}]
  },
  "layer": [
    {
      "data": {"name": "zero"},
      "mark": {"type": "rule", "color": "#8080ff", "strokeDash": [2, 2], "strokeWidth": 1},
      "encoding": {
        "x": {
          "field": "p", "type": "quantitative",
          "scale": {"domain": [-1.087, 1.07], "nice": false, "zero": false},
          "axis": {"title": "Phase", "values": [-1.0,-0.9,-0.8,-0.7,-0.6,-0.5,-0.4,-0.3,-0.2,-0.1,0.0,0.1,0.2,0.3,0.4,0.5,0.6,0.7,0.8,0.9,1.0], "labelExpr": "datum.value < -0.001 ? '-' + format(-datum.value, '.1f') : format(abs(datum.value), '.1f')", "labelOverlap": false, "offset": 4, "titlePadding": 6}
        }
      }
    },
    {
      "data": {"name": "vis"},
      "mark": {"type": "point", "filled": true, "size": 34, "opacity": 1, "shape": "circle"},
      "encoding": {
        "x": {
          "field": "p", "type": "quantitative",
          "scale": {"domain": [-1.087, 1.07], "nice": false, "zero": false},
          "axis": {"title": "Phase", "values": [-1.0,-0.9,-0.8,-0.7,-0.6,-0.5,-0.4,-0.3,-0.2,-0.1,0.0,0.1,0.2,0.3,0.4,0.5,0.6,0.7,0.8,0.9,1.0], "labelExpr": "datum.value < -0.001 ? '-' + format(-datum.value, '.1f') : format(abs(datum.value), '.1f')", "labelOverlap": false, "offset": 4, "titlePadding": 6}
        },
        "y": {
          "field": "m", "type": "quantitative",
          "scale": {"domain": [5.583, 7.315], "reverse": true, "nice": false, "zero": false},
          "axis": {"title": "Brightness (magnitude)", "values": [5.6,5.7,5.8,5.9,6.0,6.1,6.2,6.3,6.4,6.5,6.6,6.7,6.8,6.9,7.0,7.1,7.2,7.3], "format": ".1f", "labelOverlap": false, "offset": 4, "titlePadding": 8}
        },
        "color": {
          "datum": "Visual",
          "scale": {"domain": ["Model", "Visual"], "range": ["#ff0000", "#000000"]},
          "legend": {"title": null, "orient": "none", "legendX": 417, "legendY": 655, "direction": "horizontal", "symbolType": "circle", "symbolSize": 30, "strokeColor": "#000000", "padding": 3, "columnPadding": 14, "labelFontSize": 12, "symbolFillColor": "#000000"}
        }
      }
    },
    {
      "data": {"name": "model"},
      "mark": {"type": "line", "strokeWidth": 7, "interpolate": "monotone", "strokeCap": "round", "strokeJoin": "round"},
      "encoding": {
        "x": {
          "field": "p", "type": "quantitative",
          "scale": {"domain": [-1.087, 1.07], "nice": false, "zero": false},
          "axis": {"title": "Phase", "values": [-1.0,-0.9,-0.8,-0.7,-0.6,-0.5,-0.4,-0.3,-0.2,-0.1,0.0,0.1,0.2,0.3,0.4,0.5,0.6,0.7,0.8,0.9,1.0], "labelExpr": "datum.value < -0.001 ? '-' + format(-datum.value, '.1f') : format(abs(datum.value), '.1f')", "labelOverlap": false, "offset": 4, "titlePadding": 6}
        },
        "y": {
          "field": "m", "type": "quantitative",
          "scale": {"domain": [5.583, 7.315], "reverse": true, "nice": false, "zero": false},
          "axis": {"title": "Brightness (magnitude)", "values": [5.6,5.7,5.8,5.9,6.0,6.1,6.2,6.3,6.4,6.5,6.6,6.7,6.8,6.9,7.0,7.1,7.2,7.3], "format": ".1f", "labelOverlap": false, "offset": 4, "titlePadding": 8}
        },
        "color": {"datum": "Model"}
      }
    }
  ]
}
